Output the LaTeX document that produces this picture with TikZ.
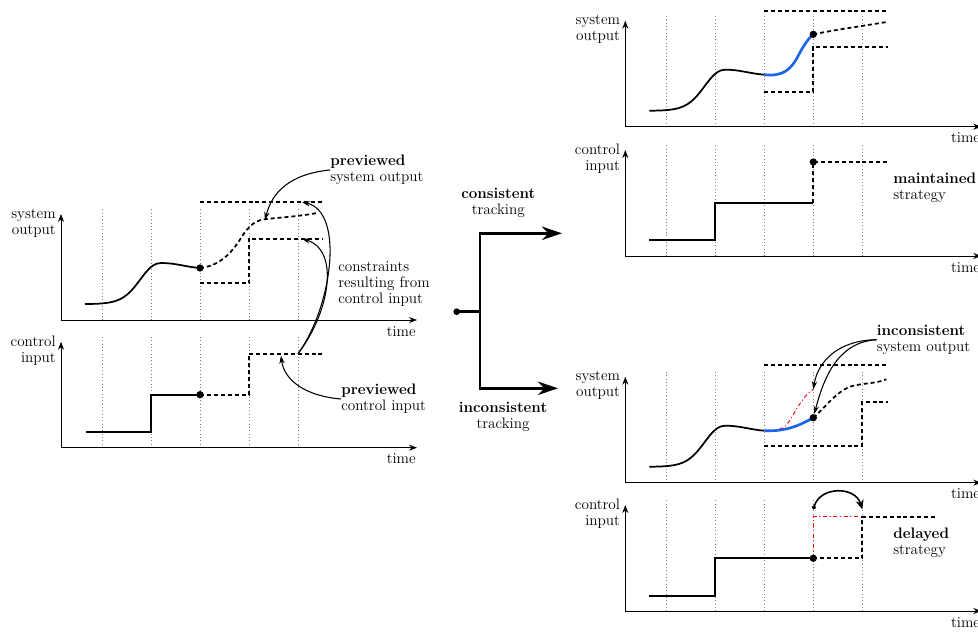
\documentclass[tikz,border=0pt]{standalone}
\usepackage{tikz}
\usetikzlibrary{arrows.meta, positioning, calc}
\definecolor{trackblue}{RGB}{30,100,235}

\begin{document}
\begin{tikzpicture}[
    x=0.75pt, y=0.75pt,
    every node/.style={font=\fontsize{11.4}{12}\selectfont, inner sep=0pt},
    axisline/.style={arrows={Stealth[length=6pt,width=4.5pt]-Stealth[length=6pt,width=4.5pt]}, line width=0.7pt},
    gridline/.style={dotted, gray, line width=0.5pt},
    past/.style={line width=1.3pt},
    preview/.style={line width=1.3pt, dash pattern=on 3pt off 2.2pt},
    applied/.style={line width=2pt, trackblue},
    planned/.style={line width=0.7pt, red, dash dot},
    annot/.style={arrows={-Stealth[length=6pt,width=4pt]}, line width=0.8pt},
    branch/.style={arrows={-Stealth[length=15pt,width=10pt]}, line width=2.2pt},
    delayarrow/.style={arrows={Circle[length=3pt]-Stealth[length=7pt,width=6pt]}, line width=1.2pt},
    nowdot/.style={circle, fill, minimum size=5.5pt},
    lbl/.style={align=left, anchor=west},
  ]
  \useasboundingbox (0,0) rectangle (978,632);

  % --- (left, top) previewed system output ---
  \begin{scope}[shift={(61,312)}]
    \foreach \gx in {41,90,139,188,237}
      \draw[gridline] (\gx,0) -- (\gx,112);
    \draw[axisline] (0,106) -- (0,0) -- (356,0);
    \node[anchor=east, align=right] (outLT) at (-5,97) {system\\output};
    \node[anchor=north east] (timeLT) at (355,-6) {time};
    \draw[preview] (139,36.7) -- (188,36.7) -- (188,81.3) -- (261,81.3);
    \draw[preview] (139,118) -- (261,118);
    \draw[past] (24,16) .. controls (52,16) and (60,19) .. (70,29)
      .. controls (82,42) and (88,57) .. (100,57)
      .. controls (115,57) and (125,53) .. (139,52);
    \draw[preview] (139,52) .. controls (158,54) and (170,66) .. (180,82)
      .. controls (189,96) and (195,100) .. (206,101)
      .. controls (225,103) and (240,104) .. (256,107);
    \node[nowdot] (nowLT) at (139,52) {};
    \coordinate (prevOut) at (204,100);
    \coordinate (boundHi) at (241,118);
    \coordinate (boundLo) at (241,81.3);
  \end{scope}

  % --- (left, bottom) previewed control input ---
  \begin{scope}[shift={(61,184.3)}]
    \foreach \gx in {41,90,139,188,237}
      \draw[gridline] (\gx,0) -- (\gx,112);
    \draw[axisline] (0,106) -- (0,0) -- (356,0);
    \node[anchor=east, align=right] (inLB) at (-5,97) {control\\input};
    \node[anchor=north east] (timeLB) at (355,-6) {time};
    \draw[past] (25,16) -- (90,16) -- (90,53) -- (139,53);
    \draw[preview] (139,53) -- (188,53) -- (188,94) -- (261,94);
    \node[nowdot] (nowLB) at (139,53) {};
    \coordinate (ctlPrev) at (237,94);
    \coordinate (ctlPrevTip) at (220,92);
  \end{scope}

  % annotations on the left
  \node[lbl] (prevOutLbl) at (330,462) {\textbf{previewed}\\system output};
  \node[lbl] (boundLbl) at (338,348) {constraints\\resulting from\\control input};
  \node[lbl] (prevCtlLbl) at (341,233) {\textbf{previewed}\\control input};
  \draw[annot] (prevOutLbl.west) .. controls (290,458) and (272,440) .. (prevOut);
  \draw[annot] (ctlPrev) .. controls (332,325) and (345,420) .. (boundHi);
  \draw[annot] (ctlPrev) .. controls (330,320) and (340,382) .. (boundLo);
  \draw[annot] (prevCtlLbl.west) .. controls (305,236) and (284,252) .. (ctlPrevTip);

  % --- branching ---
  \node[nowdot, minimum size=5pt] (track) at (456.7,320.3) {};
  \coordinate (split) at (480,320.3);
  \coordinate (consEnd) at (562,398.7);
  \coordinate (inconsEnd) at (558,243.7);
  \draw[line width=2.2pt] (track.center) -- (split);
  \draw[branch] (split) |- (consEnd);
  \draw[branch] (split) |- (inconsEnd);
  \node[align=center] (consLbl) at (498.3,429) {\textbf{consistent}\\tracking};
  \node[align=center] (inconsLbl) at (503,215) {\textbf{inconsistent}\\tracking};

  % --- (right 1) consistent: system output ---
  \begin{scope}[shift={(625.3,505.3)}]
    \foreach \gx in {41,90,139,188,237}
      \draw[gridline] (\gx,0) -- (\gx,112);
    \draw[axisline] (0,106) -- (0,0) -- (356,0);
    \node[anchor=east, align=right] (outR1) at (-5,97) {system\\output};
    \node[anchor=north east] (timeR1) at (355,-6) {time};
    \draw[preview] (139,35) -- (188,35) -- (188,80) -- (263,80);
    \draw[preview] (139,116) -- (263,116);
    \draw[past] (24,16) .. controls (52,16) and (60,19) .. (70,29)
      .. controls (82,42) and (88,57) .. (100,57)
      .. controls (115,57) and (125,53) .. (139,52);
    \draw[applied] (139,52) .. controls (158,50) and (166,57) .. (174,73)
      .. controls (180,84) and (184,89) .. (188,92.4);
    \draw[preview] (188,92.4) .. controls (210,97) and (240,101) .. (263,105);
    \node[nowdot] (nowR1) at (188,92.4) {};
  \end{scope}

  % --- (right 2) consistent: control input ---
  \begin{scope}[shift={(625.3,376)}]
    \foreach \gx in {41,90,139,188,237}
      \draw[gridline] (\gx,0) -- (\gx,112);
    \draw[axisline] (0,106) -- (0,0) -- (356,0);
    \node[anchor=east, align=right] (inR2) at (-5,97) {control\\input};
    \node[anchor=north east] (timeR2) at (355,-6) {time};
    \draw[past] (24,16) -- (90,16) -- (90,53) -- (188,53);
    \draw[preview] (188,53) -- (188,94) -- (263,94);
    \node[nowdot] (nowR2) at (188,94) {};
  \end{scope}
  \node[lbl] (keepLbl) at (893,444) {\textbf{maintained}\\strategy};

  % --- (right 3) inconsistent: system output ---
  \begin{scope}[shift={(625.3,149.3)}]
    \foreach \gx in {41,90,139,188,237}
      \draw[gridline] (\gx,0) -- (\gx,112);
    \draw[axisline] (0,106) -- (0,0) -- (356,0);
    \node[anchor=east, align=right] (outR3) at (-5,97) {system\\output};
    \node[anchor=north east] (timeR3) at (355,-6) {time};
    \draw[preview] (139,117.7) -- (263,117.7);
    \draw[preview] (139,36.7) -- (237,36.7) -- (237,81) -- (263,81);
    \draw[past] (24,16) .. controls (52,16) and (60,19) .. (70,29)
      .. controls (82,42) and (88,57) .. (100,57)
      .. controls (115,57) and (125,53) .. (139,52);
    \draw[planned] (154,53.5) .. controls (163,55) and (168,70) .. (176,81)
      .. controls (180,87) and (184,91) .. (188,93.4);
    \draw[applied] (139,52) .. controls (160,51) and (174,57) .. (188,65);
    \draw[preview] (188,65) .. controls (200,75) and (212,93) .. (228,97)
      .. controls (242,100) and (250,99) .. (261,103.4);
    \node[nowdot] (nowR3) at (188,65) {};
    \coordinate (redEnd) at (188,93.4);
  \end{scope}
  \node[lbl] (badLbl) at (876.7,292.3) {\textbf{inconsistent}\\system output};
  \draw[annot] (badLbl.west) .. controls (840,292) and (818,272) .. (redEnd);
  \draw[annot] (badLbl.west) .. controls (838,290) and (824,255) .. (nowR3);

  % --- (right 4) inconsistent: control input ---
  \begin{scope}[shift={(625.3,21)}]
    \foreach \gx in {41,90,139,188,237}
      \draw[gridline] (\gx,0) -- (\gx,112);
    \draw[axisline] (0,106) -- (0,0) -- (356,0);
    \node[anchor=east, align=right] (inR4) at (-5,97) {control\\input};
    \node[anchor=north east] (timeR4) at (355,-6) {time};
    \draw[past] (24,15) -- (90,15) -- (90,52.7) -- (188,52.7);
    \draw[planned] (188,52.7) -- (188,94.3) -- (237,94.3);
    \draw[preview] (188,52.7) -- (237,52.7) -- (237,94.3) -- (310,94.3);
    \node[nowdot] (nowR4) at (188,52.7) {};
    \coordinate (shiftFrom) at (188,101.7);
    \coordinate (shiftTo) at (237,101.7);
    \draw[delayarrow] (shiftFrom) .. controls (195,125) and (230,125) .. (shiftTo);
  \end{scope}
  \node[lbl] (delayLbl) at (893,89) {\textbf{delayed}\\strategy};
\end{tikzpicture}
\end{document}
